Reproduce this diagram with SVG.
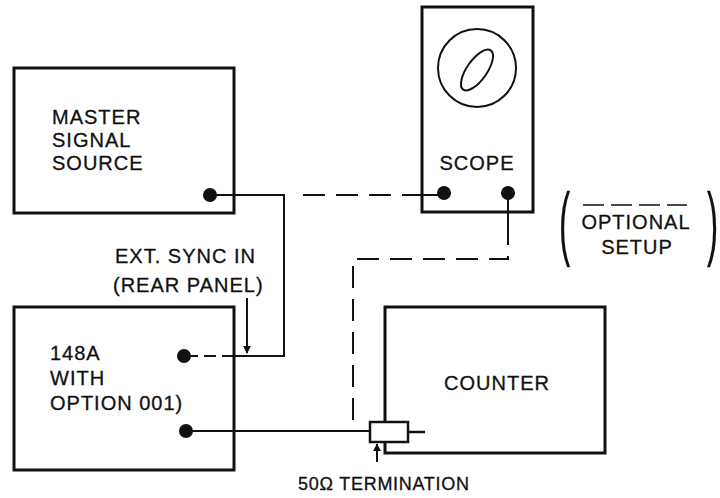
<svg xmlns="http://www.w3.org/2000/svg" width="720" height="498" viewBox="0 0 720 498">
<style>
.box{fill:#fff;stroke:#111;stroke-width:3}
.dot{fill:#111}
.ln{fill:none;stroke:#111;stroke-width:2}
.dash{fill:none;stroke:#111;stroke-width:2;stroke-dasharray:22 11}
.t{font-family:"Liberation Sans",Arial,Helvetica,sans-serif;font-size:20px;letter-spacing:1px;fill:#111;stroke:#111;stroke-width:0.3}
.s{font-size:18px;letter-spacing:0.7px}
.c{text-anchor:middle}
</style>
<defs>
<marker id="ah" viewBox="0 0 10 10" refX="9" refY="5" markerWidth="8" markerHeight="8" markerUnits="userSpaceOnUse" orient="auto">
<path d="M0,0 L10,5 L0,10 Z" fill="#111"/>
</marker>
</defs>
<g id="master">
<rect class="box" x="14" y="68" width="220" height="145"/>
<text class="t" x="52" y="124">MASTER</text>
<text class="t" x="52" y="147">SIGNAL</text>
<text class="t" x="52" y="170">SOURCE</text>
</g>
<g id="scope">
<rect class="box" x="422" y="7" width="111" height="205"/>
<circle cx="477" cy="68" r="39" fill="none" stroke="#111" stroke-width="2"/>
<ellipse cx="477" cy="70" rx="10" ry="24" transform="rotate(35 477 70)" fill="none" stroke="#111" stroke-width="2"/>
<text class="t c" x="477" y="170">SCOPE</text>
</g>
<g id="ext-sync-label">
<text class="t" x="115" y="263">EXT. SYNC IN</text>
<text class="t" x="113" y="292">(REAR PANEL)</text>
</g>
<g id="gen148a">
<rect class="box" x="14" y="307" width="220" height="163"/>
<text class="t" x="50" y="360">148A</text>
<text class="t" x="50" y="385">WITH</text>
<text class="t" x="50" y="410">OPTION 001)</text>
</g>
<g id="counter">
<rect class="box" x="385" y="307" width="220" height="146"/>
<text class="t c" x="497" y="390">COUNTER</text>
</g>
<g id="connectors">
<path class="ln" d="M210,195 H284 V356 H234"/>
<path class="ln" d="M234,356 H191" style="stroke-dasharray:12 6"/>
<path class="dash" d="M303,195 H422"/>
<path class="ln" d="M420,195 H444"/>
<path class="ln" d="M508,193 V223"/>
<path class="dash" d="M508,223 V259 H353 V423"/>
<path class="ln" d="M186,431 H371"/>
<line class="ln" x1="247" y1="298" x2="247" y2="353" marker-end="url(#ah)"/>
<line class="ln" x1="377" y1="462" x2="377" y2="444" marker-end="url(#ah)"/>
</g>
<g id="ports">
<circle class="dot" cx="210" cy="195" r="7"/>
<circle class="dot" cx="444" cy="193" r="7"/>
<circle class="dot" cx="508" cy="193" r="7"/>
<circle class="dot" cx="184" cy="356" r="7"/>
<circle class="dot" cx="186" cy="431" r="7"/>
</g>
<g id="termination">
<line class="ln" x1="408" y1="432" x2="425" y2="432" style="stroke-width:2.5"/>
<rect x="370" y="422" width="38" height="20" fill="#fff" stroke="#111" stroke-width="2.5"/>
<text class="t s" x="298" y="490">50Ω TERMINATION</text>
</g>
<g id="optional-setup">
<line class="ln" x1="583" y1="205" x2="687" y2="205" style="stroke-dasharray:21 7;stroke-width:1.5"/>
<text class="t c" x="636" y="229">OPTIONAL</text>
<text class="t c" x="637" y="254">SETUP</text>
<text class="t" transform="translate(559,250) scale(1.2,2.9)" style="font-size:28px;letter-spacing:0;stroke-width:0.1">(</text>
<text class="t" transform="translate(707,250) scale(1.2,2.9)" style="font-size:28px;letter-spacing:0;stroke-width:0.1">)</text>
</g>
</svg>
